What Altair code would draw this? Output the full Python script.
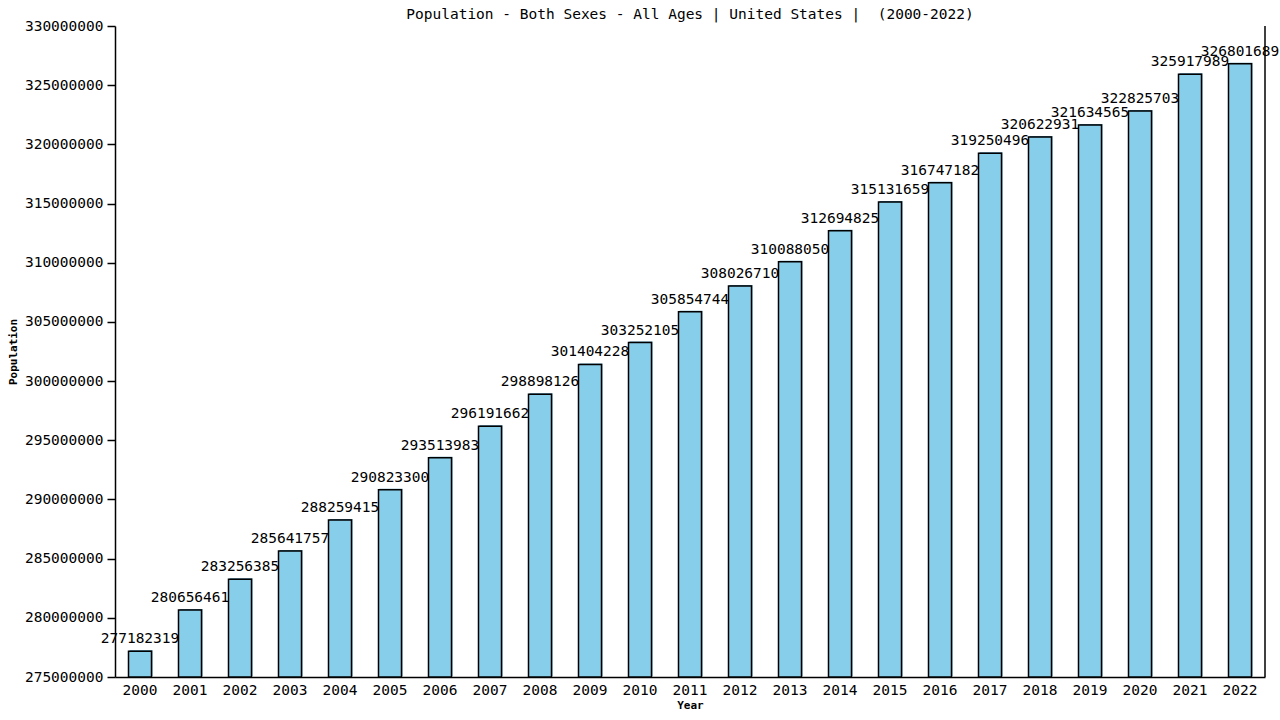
import altair as alt
import pandas as pd

years = [str(y) for y in range(2000, 2023)]
population = [277182319, 280656461, 283256385, 285641757, 288259415, 290823300,
              293513983, 296191662, 298898126, 301404228, 303252105, 305854744,
              308026710, 310088050, 312694825, 315131659, 316747182, 319250496,
              320622931, 321634565, 322825703, 325917989, 326801689]
y_ticks = list(range(275000000, 330000001, 5000000))
y_min, y_max = 275000000, 330000000

df = pd.DataFrame({"Year": years, "Population": population})
FONT = "DejaVu Sans Mono"

x = alt.X("Year:N", sort=years, title="Year",
          scale=alt.Scale(paddingInner=0.54, paddingOuter=0.27),
          axis=alt.Axis(labelAngle=0, labelFont=FONT, labelFontSize=14.5, labelColor="black",
                        ticks=False, labelPadding=6, domainColor="black", domainWidth=1.5,
                        titleFont=FONT, titleFontSize=11, titleFontWeight="bold",
                        titlePadding=3))
y = alt.Y("Population:Q", title="Population",
          scale=alt.Scale(domain=[y_min, y_max], nice=False, zero=False),
          axis=alt.Axis(values=y_ticks, format="d", labelFont=FONT, labelFontSize=14.5,
                        labelColor="black", tickColor="black", tickSize=8, tickWidth=1.5,
                        domainColor="black", domainWidth=1.5, labelPadding=4,
                        titleFont=FONT, titleFontSize=11, titleFontWeight="bold",
                        titlePadding=6, grid=False))
y2 = alt.Y2(datum=y_min)

base = alt.Chart(df)
shadow = base.mark_bar(color="#4f8fb0", xOffset=1, yOffset=-1, y2Offset=-1).encode(x=x, y=y, y2=y2)
bars = base.mark_bar(color="#87CEEB", stroke="black", strokeWidth=1.5).encode(x=x, y=y, y2=y2)
labels = base.mark_text(font=FONT, fontSize=14.5, baseline="bottom", dy=-5, color="black").encode(
    x=x, y=y, text=alt.Text("Population:Q", format="d"))
right = alt.Chart(pd.DataFrame({"v": [0]})).mark_rule(color="black", strokeWidth=1.5).encode(
    x=alt.value(1150), y=alt.value(0), y2=alt.value(651))

chart = alt.layer(shadow, bars, labels, right).properties(
    width=1150, height=651,
    background="white",
    title=alt.TitleParams("Population - Both Sexes - All Ages | United States |\u00a0 (2000-2022)",
                          font=FONT, fontSize=14.5, fontWeight="normal", color="black",
                          anchor="middle", offset=-4),
    autosize=alt.AutoSizeParams(type="none"),
    padding={"left": 115, "top": 26, "right": 15, "bottom": 43},
).configure_view(stroke="transparent", strokeWidth=0)

chart.save("out.html", embed_options={"renderer": "svg", "actions": False})

# drop the page margin so the last value label, which runs past the plot's right
# edge in the reference, still fits inside the 1280px-wide drawing
css = "<style>html, body { margin: 0 !important; padding: 0 !important; overflow: hidden; }</style>"
with open("out.html", encoding="utf-8") as f:
    html = f.read()
if "<head>" in html:
    html = html.replace("<head>", "<head>\n" + css, 1)
else:
    html = css + html
with open("out.html", "w", encoding="utf-8") as f:
    f.write(html)
